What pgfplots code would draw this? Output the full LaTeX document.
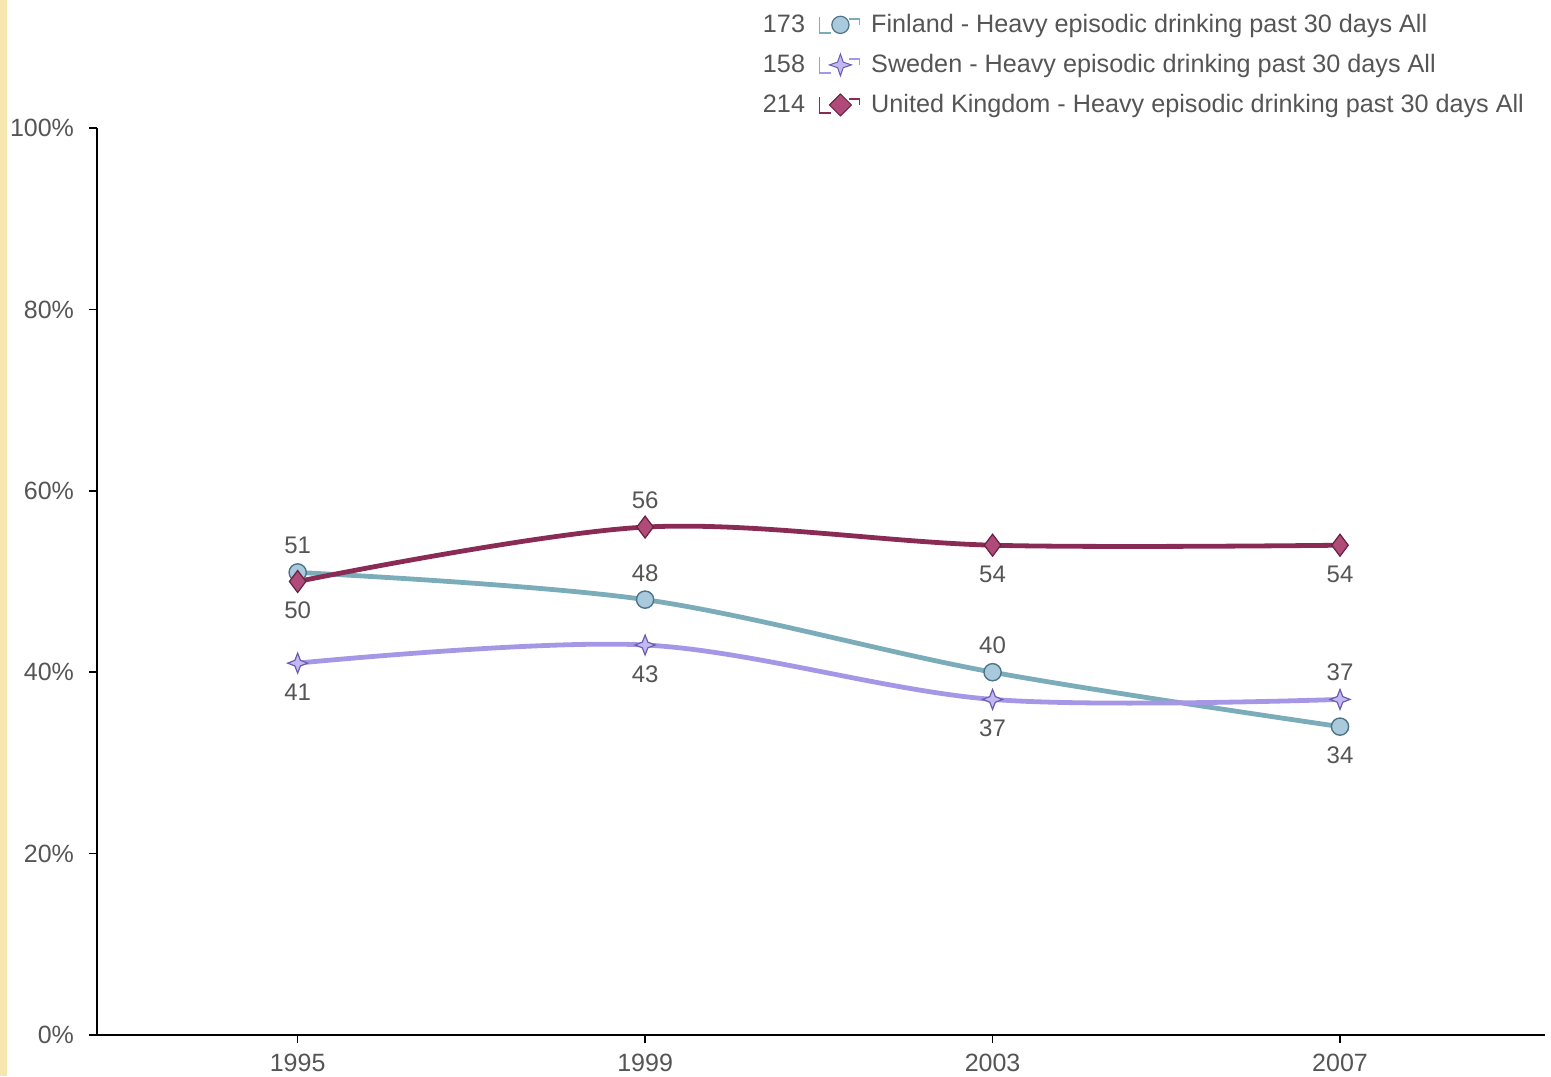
\documentclass[border=0pt]{standalone}
\usepackage{pgfplots}
\pgfplotsset{compat=1.18}
\usepackage{fontspec}
\setmainfont{Liberation Sans}
\definecolor{txt}{HTML}{555555}
\definecolor{finline}{HTML}{7AACB9}
\definecolor{finfill}{HTML}{A9C9DC}
\definecolor{finedge}{HTML}{4F7486}
\definecolor{sweline}{HTML}{A596E6}
\definecolor{swefill}{HTML}{C4B8F2}
\definecolor{sweedge}{HTML}{6A5CB0}
\definecolor{ukline}{HTML}{8A2B55}
\definecolor{ukfill}{HTML}{B04A78}
\definecolor{ukedge}{HTML}{6A1F40}
\definecolor{stripe}{HTML}{F7E6AE}
\pgfdeclareplotmark{fourstar}{%
  \pgfpathmoveto{\pgfqpoint{0pt}{\pgfplotmarksize}}%
  \pgfpathlineto{\pgfqpoint{0.28\pgfplotmarksize}{0.28\pgfplotmarksize}}%
  \pgfpathlineto{\pgfqpoint{\pgfplotmarksize}{0pt}}%
  \pgfpathlineto{\pgfqpoint{0.28\pgfplotmarksize}{-0.28\pgfplotmarksize}}%
  \pgfpathlineto{\pgfqpoint{0pt}{-\pgfplotmarksize}}%
  \pgfpathlineto{\pgfqpoint{-0.28\pgfplotmarksize}{-0.28\pgfplotmarksize}}%
  \pgfpathlineto{\pgfqpoint{-\pgfplotmarksize}{0pt}}%
  \pgfpathlineto{\pgfqpoint{-0.28\pgfplotmarksize}{0.28\pgfplotmarksize}}%
  \pgfpathclose
  \pgfusepathqfillstroke}
\pgfplotsset{
  lblabove/.style={draw=none, mark=none, forget plot, nodes near coords,
    every node near coord/.style={anchor=south, font=\fontsize{12}{14}\selectfont, text=txt, inner sep=5pt, yshift=4pt}},
  lblbelow/.style={draw=none, mark=none, forget plot, nodes near coords,
    every node near coord/.style={anchor=north, font=\fontsize{12}{14}\selectfont, text=txt, inner sep=5pt, yshift=-5pt}},
}
\begin{document}
\begin{tikzpicture}
\begin{axis}[
  scale only axis,
  width=724pt, height=453.5pt,
  xmin=1992.69, xmax=2009.36,
  ymin=0, ymax=100,
  axis lines=left,
  axis line style={-, black, line width=0.9pt},
  tick align=outside,
  major tick length=4pt,
  tick style={black, line width=0.8pt},
  xtick={1995,1999,2003,2007},
  xticklabel style={/pgf/number format/1000 sep={}, yshift=-2pt},
  ytick={0,20,40,60,80,100},
  yticklabel={\pgfmathprintnumber{\tick}\%},
  /pgf/number format/assume math mode=true,
  ticklabel style={font=\fontsize{12.5}{14}\selectfont, text=txt},
  yticklabel style={xshift=-4pt},
  legend cell align=left,
  legend style={draw=none, fill=none, at={(axis description cs:0.4555,1.1347)}, anchor=north west,
    font=\fontsize{12.6}{14}\selectfont, text=txt, row sep=5.4pt, column sep=3.5pt},
]
\coordinate (bl) at (rel axis cs:0,0);
\coordinate (tr) at (rel axis cs:1,1);
\addplot[smooth, tension=0.55, finline, line width=2.4pt, mark=*, mark size=4.3pt,
  mark options={fill=finfill, draw=finedge, line width=0.7pt},
  legend image code/.code={
    \node[anchor=east, text=txt, inner sep=0pt, font=\fontsize{12.6}{14}\selectfont] at (-6pt,0pt) {173};
    \draw[finline, line width=0.8pt] (0pt,4pt)--(0pt,-4pt)--(6pt,-4pt);
    \draw[finline, line width=0.8pt] (15pt,3pt)--(20pt,3pt)--(20pt,0pt);
    \draw[fill=finfill, draw=finedge, line width=0.6pt] (10.5pt,0pt) circle (4.3pt);
  }]
  coordinates {(1995,51) (1999,48) (2003,40) (2007,34)};
\addlegendentry{Finland - Heavy episodic drinking past 30 days All}
\addplot[smooth, tension=0.55, sweline, line width=2.4pt, mark=fourstar, mark size=5pt,
  mark options={fill=swefill, draw=sweedge, line width=0.6pt},
  legend image code/.code={
    \node[anchor=east, text=txt, inner sep=0pt, font=\fontsize{12.6}{14}\selectfont] at (-6pt,0pt) {158};
    \draw[sweline, line width=0.8pt] (0pt,4pt)--(0pt,-4pt)--(6pt,-4pt);
    \draw[sweline, line width=0.8pt] (15pt,3pt)--(20pt,3pt)--(20pt,0pt);
    \draw[fill=swefill, draw=sweedge, line width=0.5pt] (10.5pt,5.5pt)--(11.9pt,1.4pt)--(16pt,0pt)--(11.9pt,-1.4pt)--(10.5pt,-5.5pt)--(9.1pt,-1.4pt)--(5pt,0pt)--(9.1pt,1.4pt)--cycle;
  }]
  coordinates {(1995,41) (1999,43) (2003,37) (2007,37)};
\addlegendentry{Sweden - Heavy episodic drinking past 30 days All}
\addplot[smooth, tension=0.55, ukline, line width=2.4pt, mark=diamond*, mark size=5.5pt,
  mark options={fill=ukfill, draw=ukedge, line width=0.6pt},
  legend image code/.code={
    \node[anchor=east, text=txt, inner sep=0pt, font=\fontsize{12.6}{14}\selectfont] at (-6pt,0pt) {214};
    \draw[ukline, line width=0.8pt] (0pt,4pt)--(0pt,-4pt)--(6pt,-4pt);
    \draw[ukline, line width=0.8pt] (15pt,3pt)--(20pt,3pt)--(20pt,0pt);
    \draw[fill=ukfill, draw=ukedge, line width=0.5pt] (10.5pt,5.5pt)--(16pt,0pt)--(10.5pt,-5.5pt)--(5pt,0pt)--cycle;
  }]
  coordinates {(1995,50) (1999,56) (2003,54) (2007,54)};
\addlegendentry{United Kingdom - Heavy episodic drinking past 30 days All}
% value labels
\addplot[lblabove] coordinates {(1995,51) (1999,48) (2003,40)};
\addplot[lblbelow] coordinates {(2007,34)};
\addplot[lblbelow] coordinates {(1995,41) (1999,43) (2003,37)};
\addplot[lblabove] coordinates {(2007,37)};
\addplot[lblabove] coordinates {(1999,56)};
\addplot[lblbelow] coordinates {(1995,50) (2003,54) (2007,54)};
\end{axis}
\pgfresetboundingbox
\path[use as bounding box] ([shift={(-48.5pt,-20.5pt)}]bl) rectangle ([shift={(3pt,64pt)}]tr);
\fill[stripe] ([shift={(-48.5pt,-20.5pt)}]bl) rectangle ([shift={(-45pt,64pt)}]bl |- tr);
\end{tikzpicture}
\end{document}
